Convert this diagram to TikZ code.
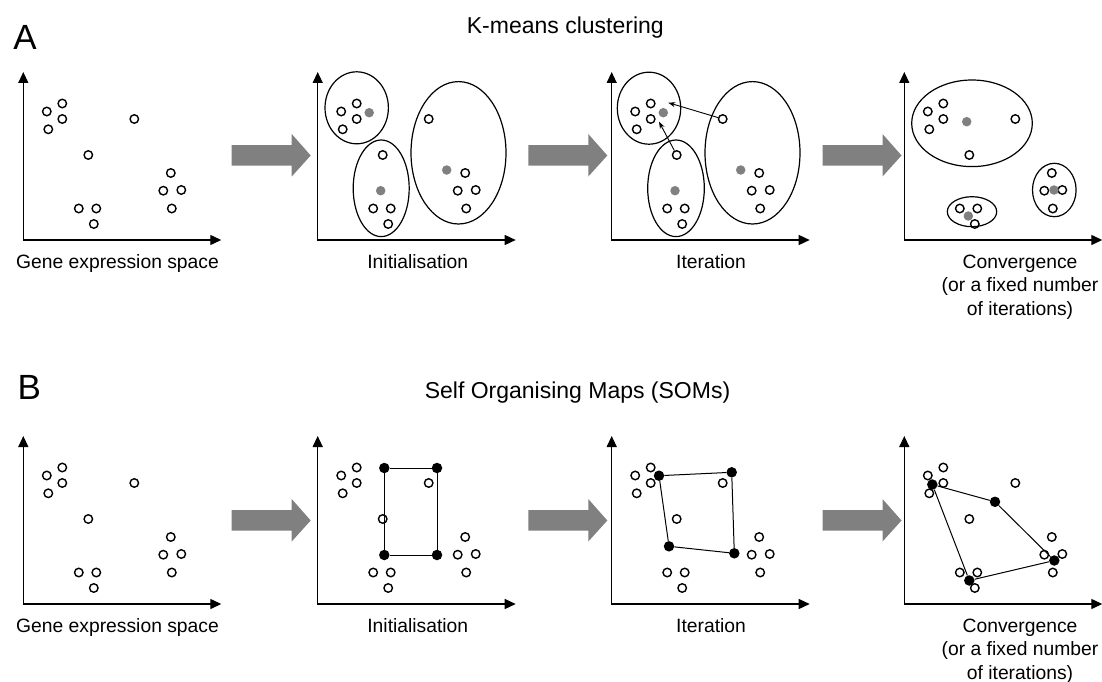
\documentclass[tikz,border=0pt]{standalone}
\usepackage{fontspec}
\setmainfont{Liberation Sans}
\usetikzlibrary{arrows.meta, positioning, shapes.geometric}
\definecolor{midgrey}{RGB}{128,128,128}
\tikzstyle{pt} = [circle, draw=black, line width=1.4pt, fill=white, minimum size=8.5pt, inner sep=0pt]
\tikzstyle{centroid} = [circle, fill=midgrey, minimum size=9.5pt, inner sep=0pt]
\tikzstyle{neuron} = [circle, fill=black, minimum size=10.5pt, inner sep=0pt]
\tikzstyle{axis} = [line width=1.3pt, {Triangle[length=11pt,width=10pt]}-{Triangle[length=11pt,width=10pt]}]
\tikzstyle{cluster} = [ellipse, draw=black, line width=1.2pt, inner sep=0pt]
\tikzstyle{move} = [line width=0.9pt, -{Stealth[length=7pt,width=5pt]}]
\tikzstyle{grid} = [line width=1pt]
\tikzstyle{bigarrow} = [fill=midgrey]
\tikzstyle{caption} = [font=\fontsize{19.3}{23.3}\selectfont, align=center, anchor=base]
\tikzstyle{heading} = [font=\fontsize{23}{27}\selectfont, anchor=base]
\tikzstyle{panel} = [font=\fontsize{35}{40}\selectfont, anchor=base]

% the same gene profiles in every panel
\newcommand{\genepoints}{%
  \foreach \n/\px/\py in {1/23.5/111.5, 2/39/103.5, 3/39/119, 4/25/129.3, 5/111/119,
      6/65/155, 7/55.5/208.5, 8/73/208.5, 9/70.5/224, 10/147.5/173, 11/140/190.7,
      12/158/190, 13/148.5/208.5}
    \node[pt] (p\n) at (\px,\py) {};}
\newcommand{\drawaxes}{%
  \coordinate (o) at (0,240);
  \coordinate (ytop) at (0,72);
  \coordinate (xend) at (198,240);
  \draw[axis] (ytop) -- (o) -- (xend);}
% grey block arrow ending at the given coordinate
\newcommand{\blockarrow}[1]{%
  \fill[bigarrow] (#1) -- ++(-19,-21.5) -- ++(0,11) -- ++(-60,0) -- ++(0,20.7)
    -- ++(60,0) -- ++(0,10.8) -- cycle;}

\begin{document}
\begin{tikzpicture}[x=1pt, y=-1pt]
  \useasboundingbox (0,0) rectangle (1102,682);

  % ---------- A: K-means ----------
  \node[panel] (lblA) at (25,50) {A};
  \node[heading] (kmeans) at (565.3,33.3) {K-means clustering};

  \begin{scope}[shift={(23.3,0)}, name prefix=a1-]
    \drawaxes
    \genepoints
    \node[caption] (cap) at (94.2,268.5) {Gene expression space};
  \end{scope}

  \begin{scope}[shift={(317.7,0)}, name prefix=a2-]
    \drawaxes
    \genepoints
    \node[cluster, minimum width=63.4pt, minimum height=72pt] (e1) at (39,107.8) {};
    \node[cluster, minimum width=56pt, minimum height=96.6pt] (e2) at (63.5,188.3) {};
    \node[cluster, minimum width=95pt, minimum height=142.4pt] (e3) at (140.8,152.8) {};
    \node[centroid] (c1) at (51.5,112.7) {};
    \node[centroid] (c2) at (63,190.7) {};
    \node[centroid] (c3) at (129,170) {};
    \node[caption] (cap) at (100.1,268.5) {Initialisation};
  \end{scope}

  \begin{scope}[shift={(611.7,0)}, name prefix=a3-]
    \drawaxes
    \genepoints
    \node[cluster, minimum width=63.4pt, minimum height=72pt] (e1) at (37.3,108.2) {};
    \node[cluster, minimum width=56.6pt, minimum height=96.6pt] (e2) at (64.3,188.3) {};
    \node[cluster, minimum width=95pt, minimum height=142.4pt] (e3) at (140.8,152.8) {};
    \node[centroid] (c1) at (51.6,112.7) {};
    \node[centroid] (c2) at (63.3,190.7) {};
    \node[centroid] (c3) at (129,170) {};
    \coordinate (t1) at (56.6,102.7);
    \coordinate (t2) at (47.3,121.7);
    \draw[move] (p5) -- (t1);
    \draw[move] (p6) -- (t2);
    \node[caption] (cap) at (99.3,268.5) {Iteration};
  \end{scope}

  \begin{scope}[shift={(904.3,0)}, name prefix=a4-]
    \drawaxes
    \genepoints
    \node[cluster, minimum width=120.6pt, minimum height=86.6pt] (e1) at (67.7,123.3) {};
    \node[cluster, minimum width=49.4pt, minimum height=30pt] (e2) at (67.7,211.7) {};
    \node[cluster, minimum width=43.6pt, minimum height=53.4pt] (e3) at (150,190) {};
    \node[centroid] (c1) at (62.4,121.7) {};
    \node[centroid] (c2) at (64,216) {};
    \node[centroid] (c3) at (149.7,190) {};
    \node[caption] (cap) at (115.7,315.2) {Convergence\\(or a fixed number\\of iterations)};
  \end{scope}

  % ---------- B: SOMs ----------
  \node[panel] (lblB) at (29.2,399.3) {B};
  \node[heading] (som) at (577.5,398.3) {Self Organising Maps (SOMs)};

  \begin{scope}[shift={(23.3,364)}, name prefix=b1-]
    \drawaxes
    \genepoints
    \node[caption] (cap) at (94.2,268.5) {Gene expression space};
  \end{scope}

  \begin{scope}[shift={(317.7,364)}, name prefix=b2-]
    \drawaxes
    \genepoints
    \node[neuron] (n1) at (66.6,104) {};
    \node[neuron] (n2) at (119.3,104) {};
    \node[neuron] (n3) at (119.3,191) {};
    \node[neuron] (n4) at (66.6,191) {};
    \draw[grid] (n1) -- (n2) -- (n3) -- (n4) -- (n1);
    \node[caption] (cap) at (100.1,268.5) {Initialisation};
  \end{scope}

  \begin{scope}[shift={(611.7,364)}, name prefix=b3-]
    \drawaxes
    \genepoints
    \node[neuron] (n1) at (47.3,111.7) {};
    \node[neuron] (n2) at (120,108.3) {};
    \node[neuron] (n3) at (122.6,189.3) {};
    \node[neuron] (n4) at (57.3,182.3) {};
    \draw[grid] (n1) -- (n2) -- (n3) -- (n4) -- (n1);
    \node[caption] (cap) at (99.3,268.5) {Iteration};
  \end{scope}

  \begin{scope}[shift={(904.3,364)}, name prefix=b4-]
    \drawaxes
    \genepoints
    \node[neuron] (n1) at (28,120.5) {};
    \node[neuron] (n2) at (90.7,137.8) {};
    \node[neuron] (n3) at (150,196.5) {};
    \node[neuron] (n4) at (65,216.5) {};
    \draw[grid] (n1) -- (n2) -- (n3) -- (n4) -- (n1);
    \node[caption] (cap) at (115.7,315.2) {Convergence\\(or a fixed number\\of iterations)};
  \end{scope}

  % grey arrows between the panels
  \foreach \tx [count=\i] in {310.7, 607.3, 901.5} {
    \coordinate (ga\i) at (\tx,155.5);
    \blockarrow{ga\i}
    \coordinate (gb\i) at (\tx,520.5);
    \blockarrow{gb\i}
  }
\end{tikzpicture}
\end{document}
